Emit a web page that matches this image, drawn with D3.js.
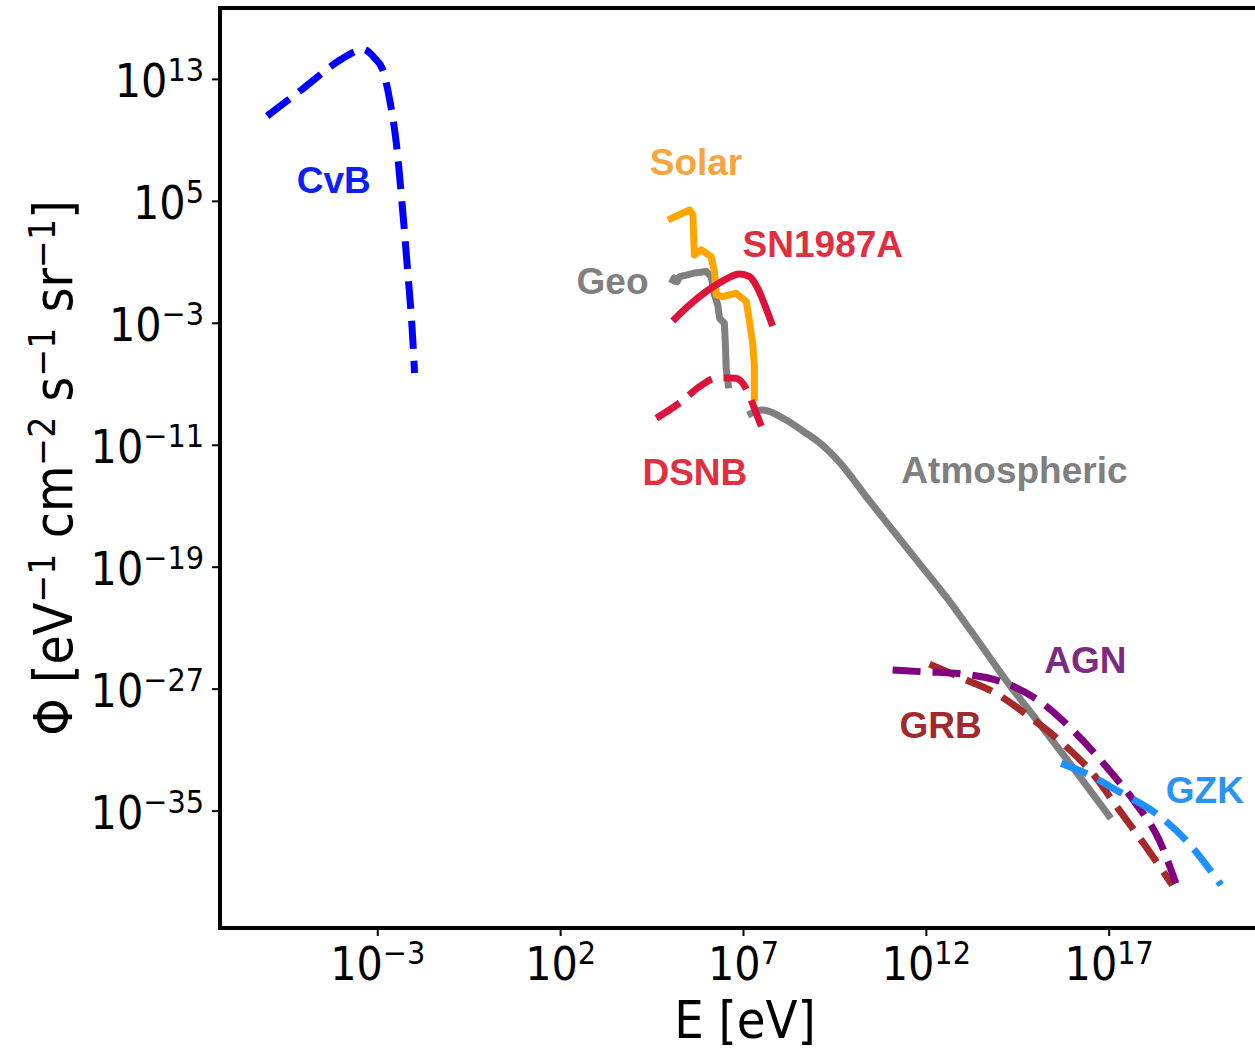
<!DOCTYPE html>
<html>
<head>
<meta charset="utf-8">
<script src="https://cdn.jsdelivr.net/npm/d3@7"></script>
<style>
  body { margin: 0; background: #fff; }
  svg text { font-family: "DejaVu Sans Condensed", "Liberation Sans Narrow", sans-serif; fill: #000; }
  svg text.lbl { font-family: "Liberation Sans", Arial, sans-serif; font-weight: bold; font-size: 37px; }
</style>
</head>
<body>
<svg id="chart" width="1255" height="1051"></svg>
<script>
// all values are log10
var xTickExp = [-3, 2, 7, 12, 17];
var yTickExp = [13, 5, -3, -11, -19, -27, -35];

var cvbLogE   = [-6.01, -5.04, -4.08, -3.60, -3.40, -3.07, -2.85, -2.66, -2.48, -2.30, -2.16, -2.05, -1.98];
var cvbLogPhi = [10.57, 12.34, 14.14, 14.80, 14.95, 14.36, 13.59, 11.62, 8.80, 4.21, 0.14, -3.25, -6.29];

var solarLogE   = [4.95, 5.54, 5.63, 5.67, 5.86, 6.13, 6.22, 6.27, 6.45, 6.81, 7.09, 7.18, 7.27, 7.31, 7.31];
var solarLogPhi = [3.75, 4.40, 4.08, 1.45, 1.78, 1.34, 0.36, -1.17, -1.28, -1.06, -1.61, -2.93, -4.45, -5.77, -8.17];

var geoLogE   = [5.04, 5.12, 5.20, 5.27, 5.40, 5.63, 6.00, 6.13, 6.22, 6.31, 6.36, 6.49, 6.52, 6.54, 6.61];
var geoLogPhi = [-0.41, -0.05, -0.30, 0.03, 0.10, 0.25, 0.36, 0.03, -1.17, -1.83, -2.70, -3.03, -4.45, -5.98, -7.30];

var snLogE   = [5.08, 5.54, 5.99, 6.45, 6.91, 7.18, 7.40, 7.63, 7.81];
var snLogPhi = [-2.88, -1.83, -0.96, -0.25, 0.20, 0.03, -0.73, -2.05, -3.21];

var dsnbLogE   = [4.63, 5.31, 5.81, 6.31, 6.81, 7.13, 7.31, 7.54];
var dsnbLogPhi = [-9.26, -8.18, -7.19, -6.60, -6.64, -7.52, -8.61, -10.03];

var atmLogE   = [7.13, 7.54, 8.18, 8.64, 9.11, 9.66, 10.37, 11.09, 11.82, 12.55, 13.28, 14.19, 15.10, 16.01, 17.06];
var atmLogPhi = [-9.05, -8.72, -9.38, -10.10, -10.90, -12.20, -14.41, -16.59, -18.78, -20.97, -23.37, -26.44, -29.28, -32.13, -35.51];

var agnLogE   = [11.09, 11.91, 13.01, 14.19, 15.19, 16.10, 17.01, 17.74, 18.38, 18.84];
var agnLogPhi = [-25.78, -25.89, -26.04, -26.65, -27.96, -29.93, -32.34, -34.53, -36.93, -39.78];

var grbLogE   = [12.10, 13.01, 13.92, 14.83, 15.74, 16.56, 17.29, 18.02, 18.74];
var grbLogPhi = [-25.39, -26.33, -27.31, -28.84, -30.59, -32.56, -34.97, -37.37, -39.89];

var gzkLogE   = [15.70, 16.38, 17.29, 18.29, 19.11, 19.84, 20.07];
var gzkLogPhi = [-31.90, -32.56, -33.77, -35.18, -36.94, -39.12, -39.88];

// label anchors (log10 E, log10 Phi)
var labelNames  = ["CvB", "Solar", "SN1987A", "Geo", "DSNB", "Atmospheric", "AGN", "GRB", "GZK"];
var labelLogE   = [-5.20, 4.45, 6.99, 2.45, 4.25, 11.33, 15.24, 11.28, 18.56];
var labelLogPhi = [5.52, 6.70, 1.32, -1.11, -13.64, -13.51, -25.98, -30.24, -34.51];
var labelColors = ["#0d1ff7", "#f6a540", "#de3040", "#808080", "#de3040", "#808080", "#7d2a83", "#a22a2c", "#2b93f2"];

var series = [
  {e: geoLogE,   p: geoLogPhi,   color: "#808080", dash: false, smooth: false},
  {e: solarLogE, p: solarLogPhi, color: "#ffa500", dash: false, smooth: false},
  {e: atmLogE,   p: atmLogPhi,   color: "#808080", dash: false, smooth: true},
  {e: dsnbLogE,  p: dsnbLogPhi,  color: "#dc143c", dash: true,  smooth: true},
  {e: snLogE,    p: snLogPhi,    color: "#dc143c", dash: false, smooth: true},
  {e: cvbLogE,   p: cvbLogPhi,   color: "#0000ff", dash: true,  smooth: true},
  {e: grbLogE,   p: grbLogPhi,   color: "#a52a2a", dash: true,  smooth: true},
  {e: agnLogE,   p: agnLogPhi,   color: "#800080", dash: true,  smooth: true},
  {e: gzkLogE,   p: gzkLogPhi,   color: "#1e90ff", dash: true,  smooth: true}
];

var svg = d3.select("#chart");
var mLeft = 220, mRight = 1255, mTop = 8, mBottom = 928;

var x = d3.scaleLog().domain([Math.pow(10, -7.3), Math.pow(10, 21)]).range([mLeft, mRight]);
var y = d3.scaleLog().domain([Math.pow(10, 17.65), Math.pow(10, -42.7)]).range([mTop, mBottom]);

// curves
series.forEach(function (s) {
  var pts = s.e.map(function (v, i) { return [Math.pow(10, v), Math.pow(10, s.p[i])]; });
  var line = d3.line()
    .x(function (d) { return x(d[0]); })
    .y(function (d) { return y(d[1]); })
    .curve(s.smooth ? d3.curveMonotoneX : d3.curveLinear);
  svg.append("path")
    .attr("d", line(pts))
    .attr("fill", "none")
    .attr("stroke", s.color)
    .attr("stroke-width", 7)
    .attr("stroke-linejoin", "round")
    .attr("stroke-dasharray", s.dash ? "28,12" : null);
});

// labels
labelNames.forEach(function (n, i) {
  svg.append("text")
    .attr("class", "lbl")
    .attr("x", x(Math.pow(10, labelLogE[i])))
    .attr("y", y(Math.pow(10, labelLogPhi[i])))
    .style("fill", labelColors[i])
    .text(n);
});

var supLabel = function (sel) {
  sel.each(function (d) {
    var exp = Math.round(Math.log10(d));
    var t = d3.select(this).text(null);
    t.append("tspan").text("10");
    t.append("tspan").attr("dy", -16).attr("font-size", 32)
      .text(exp < 0 ? "\u2212" + (-exp) : String(exp));
  });
};

// x axis
var gx = svg.append("g").attr("transform", "translate(0," + mBottom + ")")
  .call(d3.axisBottom(x)
    .tickValues(xTickExp.map(function (e) { return Math.pow(10, e); }))
    .tickSize(8).tickSizeOuter(0));
gx.select(".domain").remove();
gx.selectAll(".tick line").attr("stroke", "#000").attr("stroke-width", 2);
gx.selectAll(".tick text")
  .attr("y", 52).attr("dy", null)
  .attr("font-size", 46)
  .call(supLabel);

// y axis
var gy = svg.append("g").attr("transform", "translate(" + mLeft + ",0)")
  .call(d3.axisLeft(y)
    .tickValues(yTickExp.map(function (e) { return Math.pow(10, e); }))
    .tickSize(8).tickSizeOuter(0));
gy.select(".domain").remove();
gy.selectAll(".tick line").attr("stroke", "#000").attr("stroke-width", 2);
gy.selectAll(".tick text")
  .attr("x", -16).attr("dy", null).attr("y", 18)
  .attr("font-size", 46)
  .call(supLabel);

// spines (right side runs off the picture)
svg.append("path")
  .attr("d", "M" + mRight + "," + mTop + "H" + mLeft + "V" + mBottom + "H" + mRight)
  .attr("fill", "none")
  .attr("stroke", "#000")
  .attr("stroke-width", 4);

// axis titles
svg.append("text")
  .attr("x", 745).attr("y", 1038)
  .attr("text-anchor", "middle")
  .attr("font-size", 52)
  .text("E [eV]");

var yt = svg.append("text")
  .attr("transform", "translate(72," + ((mTop + mBottom) / 2) + ") rotate(-90)")
  .attr("text-anchor", "middle")
  .attr("font-size", 53);
[["\u03A6 [eV", "\u22121"], [" cm", "\u22122"], [" s", "\u22121"], [" sr", "\u22121"]].forEach(function (p, i) {
  yt.append("tspan").attr("dy", i ? 17 : 0).text(p[0]);
  yt.append("tspan").attr("dy", -17).attr("font-size", 37).text(p[1]);
});
yt.append("tspan").attr("dy", 17).text("]");
</script>
</body>
</html>
